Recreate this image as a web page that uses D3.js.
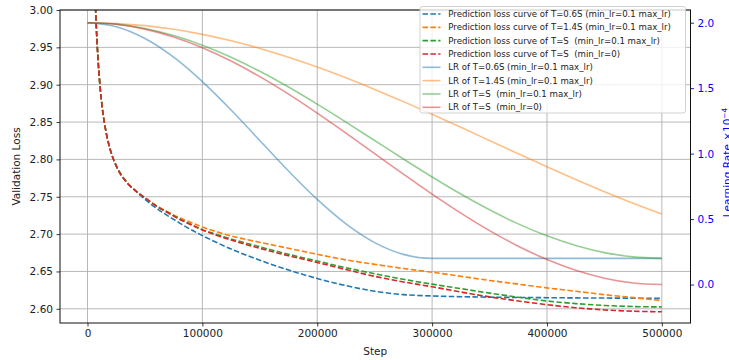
<!DOCTYPE html>
<html><head><meta charset="utf-8">
<script src="https://cdn.jsdelivr.net/npm/d3@7"></script>
<style>
body{margin:0;background:#fff}
svg{display:block}
text{font-family:"DejaVu Sans",sans-serif;white-space:pre}
</style>
</head><body><svg id="c" width="729" height="360"></svg>
<script>
// ---------- data ----------
const lossSteps = [5000,6500,8000,10000,12000,14500,18000,22000,28000,35000,43000,50000,60000,70000,80000,90000,100000,125000,150000,175000,200000,225000,250000,275000,300000,325000,350000,375000,400000,425000,450000,475000,500000];
const lossT06 = [3.12,3.026,2.9665,2.915,2.8807,2.851,2.8234,2.8026,2.7825,2.7678,2.756,2.7465,2.7345,2.7245,2.715,2.706,2.698,2.680,2.665,2.652,2.6405,2.631,2.6235,2.619,2.6172,2.6162,2.6156,2.6152,2.6149,2.6146,2.6144,2.6142,2.614];
const lossT14 = [3.12,3.026,2.9665,2.915,2.8807,2.851,2.8234,2.8026,2.7825,2.7678,2.7565,2.7485,2.738,2.7295,2.722,2.7155,2.7095,2.6975,2.689,2.681,2.673,2.6655,2.6595,2.654,2.649,2.6435,2.638,2.633,2.628,2.6235,2.619,2.615,2.611];
const lossT10 = [3.12,3.026,2.9665,2.915,2.8807,2.851,2.8234,2.8026,2.7825,2.7678,2.7565,2.7485,2.7375,2.729,2.7205,2.713,2.706,2.6935,2.683,2.673,2.664,2.655,2.647,2.6395,2.633,2.627,2.621,2.6155,2.6105,2.607,2.6045,2.603,2.6025];
const lossT10z = [3.12,3.026,2.9665,2.915,2.8807,2.851,2.8234,2.8026,2.7825,2.7678,2.7565,2.7485,2.7375,2.7285,2.720,2.7125,2.7055,2.692,2.681,2.671,2.662,2.6525,2.6435,2.636,2.6295,2.6225,2.616,2.6105,2.6055,2.6015,2.5985,2.5968,2.596];

const lrSteps = [0,25000,50000,75000,100000,125000,150000,175000,200000,225000,250000,275000,300000,325000,350000,375000,400000,425000,450000,475000,500000];
const lrT06 = [2.0,1.9693,1.8794,1.7364,1.55,1.3329,1.1,0.8671,0.65,0.4636,0.3206,0.2307,0.2,0.2,0.2,0.2,0.2,0.2,0.2,0.2,0.2];
const lrT14 = [2.0,1.9943,1.9774,1.9495,1.9109,1.8620,1.8036,1.7364,1.6611,1.5788,1.4905,1.3973,1.3003,1.2008,1.1,0.9992,0.8997,0.8027,0.7095,0.6212,0.5389];
const lrT10 = [2.0,1.9889,1.9560,1.9019,1.8281,1.7364,1.6290,1.5086,1.3781,1.2408,1.1,0.9592,0.8219,0.6914,0.5710,0.4636,0.3719,0.2981,0.2440,0.2111,0.2];
const lrT10z = [2.0,1.9877,1.9511,1.8910,1.8090,1.7071,1.5878,1.4540,1.3090,1.1564,1.0,0.8436,0.6910,0.5460,0.4122,0.2929,0.1910,0.1090,0.0489,0.0123,0.0];

const xTicks = [0,100000,200000,300000,400000,500000];
const yLossTicks = [2.60,2.65,2.70,2.75,2.80,2.85,2.90,2.95,3.00];
const yLrTicks = [0.0,0.5,1.0,1.5,2.0];
const legendLabels = [
  "Prediction loss curve of T=0.6S (min_lr=0.1 max_lr)",
  "Prediction loss curve of T=1.4S (min_lr=0.1 max_lr)",
  "Prediction loss curve of T=S  (min_lr=0.1 max_lr)",
  "Prediction loss curve of T=S  (min_lr=0)",
  "LR of T=0.6S (min_lr=0.1 max_lr)",
  "LR of T=1.4S (min_lr=0.1 max_lr)",
  "LR of T=S  (min_lr=0.1 max_lr)",
  "LR of T=S  (min_lr=0)"
];
const colors = ["#1f77b4","#ff7f0e","#2ca02c","#d62728"];

// ---------- layout ----------
const L = 60, R = 690.5, T = 10, B = 323;
const svg = d3.select("#c");
svg.append("rect").attr("width",729).attr("height",360).attr("fill","#fff");

const x = d3.scaleLinear().domain([-23950, 524950]).range([L, R]);
const y = d3.scaleLinear().domain([2.581, 3.00]).range([B, T]);
const y2 = d3.scaleLinear().domain([-0.2936, 2.097]).range([B, T]);

svg.append("clipPath").attr("id","clip").append("rect")
  .attr("x",L).attr("y",T).attr("width",R-L).attr("height",B-T);

// grid
const grid = svg.append("g").attr("stroke","#b0b0b0").attr("stroke-width",0.9);
xTicks.forEach(t => grid.append("line").attr("x1",x(t)).attr("x2",x(t)).attr("y1",T).attr("y2",B));
yLossTicks.forEach(t => grid.append("line").attr("x1",L).attr("x2",R).attr("y1",y(t)).attr("y2",y(t)));

const plot = svg.append("g").attr("clip-path","url(#clip)");
const lossSeries = [lossT06, lossT14, lossT10, lossT10z];
const lrSeries = [lrT06, lrT14, lrT10, lrT10z];

const lineLoss = d3.line().x((d,i)=>x(lossSteps[i])).y(d=>y(d)).curve(d3.curveCatmullRom.alpha(0.5));
const lineLr = d3.line().x((d,i)=>x(lrSteps[i])).y(d=>y2(d)).curve(d3.curveMonotoneX);

lossSeries.forEach((s,i)=>{
  plot.append("path").attr("d",lineLoss(s)).attr("fill","none")
    .attr("stroke",colors[i]).attr("stroke-width",1.6).attr("stroke-dasharray","5.5,2.4");
});
lrSeries.forEach((s,i)=>{
  plot.append("path").attr("d",lineLr(s)).attr("fill","none")
    .attr("stroke",colors[i]).attr("stroke-opacity",0.5).attr("stroke-width",1.6);
});

// axes
const fs = 10.5;
const ax = svg.append("g").attr("transform",`translate(0,${B})`)
  .call(d3.axisBottom(x).tickValues(xTicks).tickFormat(d3.format("d")).tickSize(3.5).tickPadding(3.5));
const ay = svg.append("g").attr("transform",`translate(${L},0)`)
  .call(d3.axisLeft(y).tickValues(yLossTicks).tickFormat(d3.format(".2f")).tickSize(3.5).tickPadding(3.5));
const ay2 = svg.append("g").attr("transform",`translate(${R},0)`)
  .call(d3.axisRight(y2).tickValues(yLrTicks).tickFormat(d3.format(".1f")).tickSize(3.5).tickPadding(3.5));
[ax,ay,ay2].forEach(g=>{
  g.select(".domain").remove();
  g.selectAll("text").attr("font-size",fs).attr("font-family","DejaVu Sans").attr("fill","#222");
  g.selectAll("line").attr("stroke","#222").attr("stroke-width",0.9);
});
ay2.selectAll("text").attr("fill","blue");
ay2.selectAll("line").attr("stroke","blue");

// spines
svg.append("rect").attr("x",L).attr("y",T).attr("width",R-L).attr("height",B-T)
  .attr("fill","none").attr("stroke","#111").attr("stroke-width",1);

// axis labels
svg.append("text").attr("x",(L+R)/2).attr("y",355).attr("text-anchor","middle")
  .attr("font-size",fs).attr("fill","#222").text("Step");
svg.append("text").attr("transform",`translate(20,${(T+B)/2}) rotate(-90)`)
  .attr("text-anchor","middle").attr("font-size",fs).attr("fill","#222").text("Validation Loss");
const rl = svg.append("text").attr("transform",`translate(731,${(T+B)/2 - 4}) rotate(-90)`)
  .attr("text-anchor","middle").attr("font-size",fs).attr("fill","blue");
rl.append("tspan").text("Learning Rate ×10");
rl.append("tspan").attr("dy",-4).attr("font-size",fs*0.7).text("−4");

// legend
const lg = svg.append("g");
lg.append("rect").attr("x",420).attr("y",6.5).attr("width",265.5).attr("height",106.5)
  .attr("rx",2.5).attr("fill","#fff").attr("fill-opacity",0.8).attr("stroke","#ccc").attr("stroke-width",0.9);
legendLabels.forEach((lab,i)=>{
  const cy = 14 + i*13.33;
  const c = colors[i%4];
  const ln = lg.append("line").attr("x1",422.5).attr("x2",440.5).attr("y1",cy).attr("y2",cy)
    .attr("stroke",c).attr("stroke-width",1.6);
  if(i<4) ln.attr("stroke-dasharray","5.5,2.4");
  else ln.attr("stroke-opacity",0.5);
  lg.append("text").attr("x",448.3).attr("y",cy).attr("dy","0.35em")
    .attr("font-size",8.6).attr("fill","#222").attr("xml:space","preserve").text(lab);
});
</script>
</body></html>
